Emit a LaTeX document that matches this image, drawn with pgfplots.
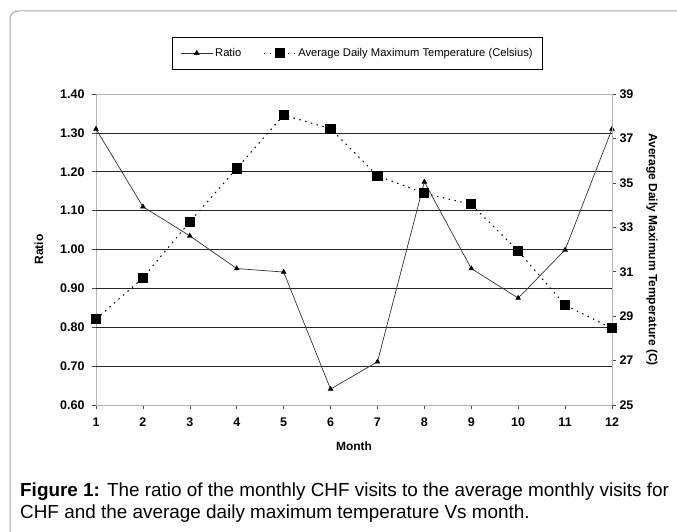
\documentclass[border=0pt]{standalone}
\usepackage{pgfplots}
\usepackage{pgfplotstable}
\pgfplotsset{compat=1.18}
\usepackage{fontspec}
\setmainfont{Liberation Sans}

\pgfplotstableread{
m r
1 1.31
2 1.11
3 1.035
4 0.951
5 0.942
6 0.641
7 0.711
8 1.174
9 0.951
10 0.875
11 0.999
12 1.31
}\ratiotab

\pgfplotstableread{
m t
1 28.86
2 30.72
3 33.25
4 35.65
5 38.05
6 37.44
7 35.32
8 34.53
9 34.03
10 31.93
11 29.50
12 28.45
}\temptab

\begin{document}
\begin{tikzpicture}[x=1pt,y=1pt]
\useasboundingbox (0,0) rectangle (677,532);
\fill[white] (0,0) rectangle (677,532);
\draw[gray!70, line width=1pt, rounded corners=8pt] (10,521) rectangle (700,-20);

\pgfplotsset{
  common/.style={
    at={(96pt,127pt)}, anchor=south west,
    scale only axis, width=516pt, height=311pt,
    xmin=1, xmax=12,
    tick label style={font=\fontsize{12.5}{14}\selectfont\bfseries},
    label style={font=\fontsize{12}{14}\selectfont\bfseries},
    tick align=outside,
    major tick length=4pt,
    every tick/.style={gray!60!black, line width=0.6pt},
    axis line style={gray!60, line width=0.8pt},
    /pgf/number format/assume math mode=true,
  }
}

\begin{axis}[common,
  ymin=0.6, ymax=1.4,
  xtick={1,...,12},
  ytick={0.6,0.7,...,1.41},
  xtick pos=bottom, ytick pos=left,
  yticklabel style={xshift=-4pt, /pgf/number format/fixed, /pgf/number format/fixed zerofill, /pgf/number format/precision=2},
  xticklabel style={yshift=-5pt},
  extra y ticks={0.7,0.8,0.9,1.0,1.1,1.2,1.3},
  extra y tick labels={},
  extra y tick style={grid=major, major tick length=0pt},
  grid style={black!85, line width=0.7pt},
  xlabel={Month},
  ylabel={Ratio},
  xlabel style={yshift=-9pt},
  ylabel style={yshift=6pt},
]
\addplot[black!80, line width=0.7pt, mark=triangle*, mark size=2.6pt, mark options={black, solid}]
  table[x=m, y=r] {\ratiotab};
\end{axis}

\begin{axis}[common,
  ymin=25, ymax=39,
  ytick={25,27,...,39},
  axis y line*=right,
  axis x line=none,
  ylabel={Average Daily Maximum Temperature (C)},
  ylabel style={rotate=180, yshift=6pt},
  legend columns=2,
  legend style={at={(0.507,1.1833)}, anchor=north, draw=black, line width=0.8pt,
    font=\fontsize{11.2}{13}\selectfont, inner xsep=8pt, inner ysep=9pt,
    /tikz/every even column/.append style={column sep=20pt}},
  legend cell align=left,
  legend image code/.code={\draw[mark repeat=2,mark phase=2] plot coordinates {(0pt,0pt) (16pt,0pt) (32pt,0pt)};},
]
\addlegendimage{black!80, line width=0.7pt, mark=triangle*, mark size=2.6pt, mark options={black, solid}}
\addlegendentry{Ratio}
\addplot[black, line width=1pt, dash pattern=on 1.5pt off 4.5pt, mark=square*, mark size=4.6pt, mark options={black, solid}]
  table[x=m, y=t] {\temptab};
\addlegendentry{Average Daily Maximum Temperature (Celsius)}
\end{axis}

\node[anchor=base west, align=left, inner sep=0pt, font=\fontsize{18.9}{22}\selectfont] at (20,532-519)
 {\textbf{Figure 1:} The ratio of the monthly CHF visits to the average monthly visits for\\CHF and the average daily maximum temperature Vs month.};
\end{tikzpicture}
\end{document}
